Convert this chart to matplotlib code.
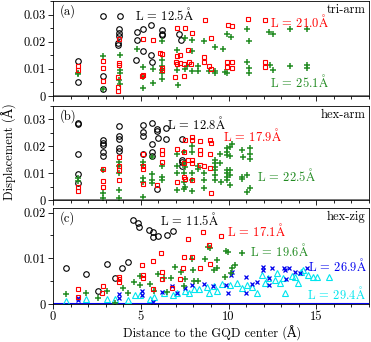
import matplotlib
matplotlib.use("Agg")
import matplotlib.pyplot as plt
from matplotlib.ticker import MultipleLocator, FuncFormatter

plt.rcParams['font.family'] = ['cmr10', 'DejaVu Serif']
plt.rcParams['mathtext.fontset'] = 'cm'
plt.rcParams['axes.formatter.use_mathtext'] = False
plt.rcParams['axes.unicode_minus'] = False

AA = r'$\mathrm{\AA}$'

# ---------------- panel (a) tri-arm ----------------
a_blk_x = [1.41, 1.41, 2.83, 2.83, 2.87, 3.82, 3.78, 3.78, 3.76, 3.72, 3.70, 4.77, 4.77, 4.74,
           5.15, 5.15, 5.57, 5.57, 5.62, 6.23, 6.19, 6.19, 7.20, 7.27]
a_blk_y = [0.0128, 0.0052, 0.0294, 0.0074, 0.0025, 0.0294, 0.0247, 0.0232, 0.0220, 0.0195, 0.0189,
           0.0236, 0.0205, 0.0133, 0.0247, 0.0164, 0.0263, 0.0152, 0.0127, 0.0242, 0.0229, 0.0225,
           0.0230, 0.0205]
a_red_x = [1.41, 1.45, 2.83, 2.87, 2.83, 3.76, 3.76, 3.76, 3.72, 3.72, 3.72, 5.15, 5.72, 5.15, 5.05,
           6.10, 6.19, 6.19, 6.19, 7.08, 7.00, 7.05, 6.95, 7.05, 7.71, 7.52, 7.90, 8.66, 8.98, 9.99,
           10.22, 11.13, 12.08, 7.24, 7.24, 7.46, 7.77, 7.84, 8.60, 8.60, 8.90, 8.98, 9.89, 10.20,
           9.89, 10.20, 12.08, 12.08, 7.46]
a_red_y = [0.0112, 0.0096, 0.0130, 0.0103, 0.0056, 0.0211, 0.0122, 0.0113, 0.0069, 0.0032, 0.0019,
           0.0211, 0.0205, 0.0078, 0.0072, 0.0160, 0.0154, 0.0103, 0.0095, 0.0149, 0.0127, 0.0119,
           0.0069, 0.0251, 0.0169, 0.0251, 0.0233, 0.0279, 0.0214, 0.0263, 0.0257, 0.0285, 0.0279,
           0.0152, 0.0122, 0.0117, 0.0127, 0.0119, 0.0143, 0.0127, 0.0112, 0.0100, 0.0125, 0.0125,
           0.0107, 0.0104, 0.0125, 0.0108, 0.0072]
a_grn_x = [1.41, 1.45, 2.83, 2.87, 3.80, 3.80, 3.80, 3.80, 3.76, 4.77, 5.15, 5.15, 5.15, 5.72, 5.72,
           6.19, 6.19, 6.19, 6.19, 6.19, 6.19, 7.08, 7.08, 7.14, 7.52, 7.65, 7.90, 7.90, 7.52, 7.90,
           8.28, 8.28, 8.60, 8.90, 9.23, 9.23, 9.23, 9.67, 9.89, 10.14, 9.80, 9.89, 11.03, 11.19,
           11.03, 11.19, 11.19, 12.33, 12.56, 12.37, 12.56, 13.50, 13.50, 14.45, 14.45, 14.45]
a_grn_y = [0.0086, 0.0080, 0.0148, 0.0025, 0.0152, 0.0096, 0.0086, 0.0043, 0.0060, 0.0173, 0.0108,
           0.0069, 0.0028, 0.0099, 0.0047, 0.0201, 0.0133, 0.0111, 0.0096, 0.0086, 0.0062, 0.0170,
           0.0094, 0.0041, 0.0215, 0.0111, 0.0205, 0.0164, 0.0099, 0.0093, 0.0111, 0.0093, 0.0201,
           0.0093, 0.0179, 0.0093, 0.0085, 0.0173, 0.0230, 0.0217, 0.0089, 0.0085, 0.0247, 0.0201,
           0.0125, 0.0103, 0.0086, 0.0234, 0.0229, 0.0115, 0.0096, 0.0247, 0.0111, 0.0247, 0.0114,
           0.0105]

# ---------------- panel (b) hex-arm ----------------
b_blk_x = [1.44, 1.44, 1.44, 1.44, 1.44, 2.87, 2.87, 2.87, 2.87, 2.87, 3.78, 3.78, 3.78, 3.78, 3.78,
           5.11, 5.11, 5.11, 5.11, 5.62, 5.62, 5.66, 5.66, 5.90, 5.90, 5.90, 5.98, 6.42, 6.42, 7.33,
           7.33, 7.33, 7.33]
b_blk_y = [0.0288, 0.0282, 0.0173, 0.0095, 0.0062, 0.0225, 0.0214, 0.0204, 0.0177, 0.0163, 0.0275,
           0.0240, 0.0228, 0.0193, 0.0181, 0.0278, 0.0253, 0.0240, 0.0170, 0.0288, 0.0207, 0.0179,
           0.0164, 0.0041, 0.0265, 0.0256, 0.0230, 0.0269, 0.0228, 0.0228, 0.0150, 0.0142, 0.0127]
b_red_x = [1.44, 1.44, 2.87, 2.87, 2.87, 3.78, 3.78, 3.78, 3.78, 5.11, 5.11, 5.11, 5.11, 6.19, 6.19,
           6.19, 5.90, 7.08, 7.08, 7.52, 7.71, 7.52, 7.46, 7.90, 7.90, 8.38, 8.95, 8.98, 7.90, 7.90,
           7.46, 8.38, 8.38, 8.38, 8.60, 8.95, 8.95, 8.98, 7.46, 7.90]
b_red_y = [0.0049, 0.0035, 0.0117, 0.0072, 0.0047, 0.0159, 0.0128, 0.0111, 0.0074, 0.0173, 0.0128,
           0.0117, 0.0059, 0.0185, 0.0173, 0.0142, 0.0056, 0.0190, 0.0068, 0.0222, 0.0150, 0.0078,
           0.0180, 0.0235, 0.0222, 0.0219, 0.0222, 0.0212, 0.0149, 0.0136, 0.0136, 0.0185, 0.0173,
           0.0131, 0.0125, 0.0170, 0.0121, 0.0027, 0.0086, 0.0074]
b_grn_x = [1.44, 1.44, 2.87, 2.87, 2.87, 3.78, 3.78, 3.78, 3.78, 3.78, 5.11, 5.11, 5.11, 5.11, 5.11,
           5.62, 5.62, 5.66, 5.66, 6.19, 6.19, 6.19, 7.08, 7.08, 7.08, 7.08, 7.52, 7.52, 7.46, 7.90,
           7.90, 7.46, 7.46, 7.90, 7.46, 7.90, 7.46, 7.90, 8.28, 8.28, 8.60, 8.60, 8.60, 9.23, 9.23,
           9.23, 9.23, 9.23, 9.23, 9.52, 9.52, 9.55, 9.90, 9.90, 9.90, 9.90, 9.90, 9.90, 9.90, 10.08,
           10.08, 10.08, 10.08, 10.08, 10.18, 10.75, 10.75, 10.75, 11.03, 11.03, 11.22, 11.22, 11.22,
           11.22, 10.85]
b_grn_y = [0.0083, 0.0072, 0.0110, 0.0025, 0.0007, 0.0142, 0.0125, 0.0099, 0.0039, 0.0007, 0.0142,
           0.0130, 0.0083, 0.0068, 0.0012, 0.0161, 0.0096, 0.0074, 0.0062, 0.0128, 0.0086, 0.0074,
           0.0173, 0.0128, 0.0099, 0.0037, 0.0123, 0.0050, 0.0177, 0.0201, 0.0180, 0.0136, 0.0099,
           0.0099, 0.0068, 0.0074, 0.0040, 0.0035, 0.0128, 0.0117, 0.0099, 0.0074, 0.0043, 0.0149,
           0.0136, 0.0123, 0.0111, 0.0093, 0.0074, 0.0173, 0.0136, 0.0068, 0.0193, 0.0180, 0.0167,
           0.0111, 0.0099, 0.0086, 0.0074, 0.0199, 0.0162, 0.0111, 0.0093, 0.0057, 0.0207, 0.0185,
           0.0086, 0.0078, 0.0093, 0.0028, 0.0193, 0.0173, 0.0151, 0.0043, 0.0160]

# ---------------- panel (c) hex-zig ----------------
c_blk_x = [0.74, 1.88, 2.55, 3.10, 3.53, 3.91, 4.29, 4.58, 4.86, 4.90, 5.49, 5.72, 5.72, 6.00, 6.48, 6.82]
c_blk_y = [0.0078, 0.0065, 0.0028, 0.0088, 0.0056, 0.0078, 0.0091, 0.0183, 0.0178, 0.0168, 0.0161,
           0.0157, 0.0146, 0.0148, 0.0152, 0.0159]
c_red_x = [1.41, 1.41, 2.83, 2.77, 3.76, 3.76, 3.76, 5.05, 5.10, 5.10, 5.68, 6.15, 6.19, 6.19, 6.76,
           7.46, 7.42, 7.24, 7.71, 7.90, 8.57, 8.91, 9.55, 8.38, 8.95, 5.68]
c_red_y = [0.0033, 0.0016, 0.0040, 0.0024, 0.0060, 0.0054, 0.0049, 0.0085, 0.0063, 0.0056, 0.0093,
           0.0112, 0.0070, 0.0055, 0.0034, 0.0103, 0.0078, 0.0055, 0.0143, 0.0103, 0.0158, 0.0128,
           0.0149, 0.0078, 0.0087, 0.0033]
c_grn_x = [0.74, 1.88, 2.55, 3.10, 3.53, 3.97, 4.29, 4.62, 4.96, 4.96, 5.53, 5.76, 6.00, 6.30, 6.48,
           6.70, 6.95, 7.30, 7.46, 7.52, 7.90, 8.00, 8.05, 8.28, 8.66, 8.85, 8.95, 9.33, 9.86, 9.99,
           10.37, 10.75, 10.18, 10.14, 9.33, 9.80, 9.15]
c_grn_y = [0.0021, 0.0024, 0.0014, 0.0029, 0.0003, 0.0035, 0.0024, 0.0049, 0.0062, 0.0041, 0.0044,
           0.0029, 0.0066, 0.0057, 0.0027, 0.0057, 0.0081, 0.0069, 0.0039, 0.0055, 0.0098, 0.0075,
           0.0050, 0.0050, 0.0098, 0.0124, 0.0122, 0.0096, 0.0117, 0.0114, 0.0085, 0.0112, 0.0078,
           0.0068, 0.0078, 0.0060, 0.0074]
c_blu_x = [1.41, 1.41, 3.76, 3.76, 5.05, 5.05, 5.68, 6.19, 6.76, 7.05, 7.50, 7.90, 8.60, 9.12, 9.86,
           9.95, 10.18, 10.14, 11.00, 11.00, 11.32, 11.60, 11.99, 11.99, 12.46, 12.33, 12.33, 13.16,
           13.20, 13.46, 13.25, 13.79, 14.07, 14.45]
c_blu_y = [0.0014, 0.0008, 0.0022, 0.0014, 0.0029, 0.0020, 0.0005, 0.0027, 0.0040, 0.0024, 0.0036,
           0.0041, 0.0043, 0.0039, 0.0042, 0.0025, 0.0070, 0.0064, 0.0059, 0.0025, 0.0043, 0.0048,
           0.0081, 0.0075, 0.0078, 0.0057, 0.0041, 0.0079, 0.0074, 0.0078, 0.0054, 0.0071, 0.0067,
           0.0078]
c_cyn_x = [0.74, 1.88, 3.10, 3.53, 4.29, 4.67, 4.96, 5.53, 5.76, 6.30, 6.86, 7.05, 7.52, 7.75, 8.05,
           8.33, 8.76, 8.90, 9.18, 9.37, 9.60, 10.08, 10.46, 10.75, 11.03, 11.32, 11.60, 11.90, 12.08,
           12.27, 12.65, 12.74, 12.93, 13.08, 13.22, 13.60, 13.79, 13.98, 14.10, 14.26, 14.55, 14.79,
           15.05, 15.70]
c_cyn_y = [0.0007, 0.0010, 0.0010, 0.0012, 0.0009, 0.0019, 0.0019, 0.0012, 0.0016, 0.0024, 0.0019,
           0.0024, 0.0029, 0.0024, 0.0032, 0.0032, 0.0038, 0.0024, 0.0040, 0.0029, 0.0043, 0.0041,
           0.0045, 0.0035, 0.0041, 0.0038, 0.0024, 0.0063, 0.0046, 0.0056, 0.0052, 0.0067, 0.0045,
           0.0056, 0.0024, 0.0061, 0.0060, 0.0045, 0.0069, 0.0075, 0.0063, 0.0060, 0.0059, 0.0059]

panel_letters = ['(a)', '(b)', '(c)']
panel_names = ['tri-arm', 'hex-arm', 'hex-zig']
y_tops = [0.035, 0.035, 0.021]
x_ticks = [0, 5, 10, 15]

RED = '#ff0000'
GRN = '#228b22'
BLU = '#0000ee'
CYN = '#00e5ee'
FS = 9

W, H = 371, 342
fig = plt.figure(figsize=(W / 100, H / 100), dpi=100)
left = 53 / W
width = (369 - 53) / W
boxes = [(1, 96), (106, 200), (208, 304)]
axes = []
for top, bot in boxes:
    axes.append(fig.add_axes([left, 1 - bot / H, width, (bot - top) / H]))

circ = dict(marker='o', ms=4.0, mfc='none', mec='black', mew=0.8, ls='none')
sq = dict(marker='s', ms=3.4, mfc='none', mec=RED, mew=0.8, ls='none')
plus = dict(marker='+', ms=4.3, mec=GRN, mew=1.1, ls='none')
xm = dict(marker='x', ms=3.2, mec=BLU, mew=0.9, ls='none')
tri = dict(marker='^', ms=3.8, mfc='none', mec=CYN, mew=0.8, ls='none')

ax = axes[0]
ax.plot(a_blk_x, a_blk_y, **circ)
ax.plot(a_grn_x, a_grn_y, **plus)
ax.plot(a_red_x, a_red_y, **sq)
ax.text(4.67, 0.0300, 'L = 12.5' + AA, color='black', fontsize=FS, va='center')
ax.text(12.36, 0.0276, 'L = 21.0' + AA, color=RED, fontsize=FS, va='center')
ax.text(12.36, 0.0055, 'L = 25.1' + AA, color=GRN, fontsize=FS, va='center')

ax = axes[1]
ax.plot(b_blk_x, b_blk_y, **circ)
ax.plot(b_grn_x, b_grn_y, **plus)
ax.plot(b_red_x, b_red_y, **sq)
ax.text(6.5, 0.0286, 'L = 12.8' + AA, color='black', fontsize=FS, va='center')
ax.text(9.69, 0.0240, 'L = 17.9' + AA, color=RED, fontsize=FS, va='center')
ax.text(11.62, 0.0093, 'L = 22.5' + AA, color=GRN, fontsize=FS, va='center')

ax = axes[2]
ax.axhline(0, color=BLU, lw=1.5, zorder=1)
ax.plot(c_blk_x, c_blk_y, **circ)
ax.plot(c_cyn_x, c_cyn_y, **tri)
ax.plot(c_blu_x, c_blu_y, **xm)
ax.plot(c_grn_x, c_grn_y, **plus)
ax.plot(c_red_x, c_red_y, **sq)
ax.text(6.07, 0.0184, 'L = 11.5' + AA, color='black', fontsize=FS, va='center')
ax.text(9.9, 0.0160, 'L = 17.1' + AA, color=RED, fontsize=FS, va='center')
ax.text(11.22, 0.0116, 'L = 19.6' + AA, color=GRN, fontsize=FS, va='center')
ax.text(14.5, 0.0084, 'L = 26.9' + AA, color=BLU, fontsize=FS, va='center')
ax.text(14.45, 0.0023, 'L = 29.4' + AA, color=CYN, fontsize=FS, va='center')

fmt = FuncFormatter(lambda v, p: '0' if abs(v) < 1e-12 else '%.2f' % v)
xfmt = FuncFormatter(lambda v, p: '%d' % round(v))
for i, ax in enumerate(axes):
    ax.set_xlim(0, 18)
    ax.set_ylim(0, y_tops[i])
    if i < 2:
        ax.axhline(0, color='#777777', lw=1.4, zorder=1)
    ax.set_xticks(x_ticks)
    ax.xaxis.set_major_formatter(xfmt)
    ax.xaxis.set_minor_locator(MultipleLocator(1))
    ax.yaxis.set_major_locator(MultipleLocator(0.01))
    ax.yaxis.set_minor_locator(MultipleLocator(0.005))
    ax.yaxis.set_major_formatter(fmt)
    ax.tick_params(which='both', direction='out', labelsize=FS, width=0.6, pad=2)
    ax.tick_params(axis='x', pad=1.5)
    ax.tick_params(which='major', length=3.5)
    ax.tick_params(which='minor', length=2)
    for s in ax.spines.values():
        s.set_linewidth(0.6)
    if i < 2:
        ax.tick_params(axis='x', labelbottom=False)
    ax.text(0.02, 0.97, panel_letters[i], transform=ax.transAxes, va='top', ha='left', fontsize=FS)
    ax.text(0.99, 0.97, panel_names[i], transform=ax.transAxes, va='top', ha='right', fontsize=FS)

fig.text(0.025, 0.558, 'Displacement (Å)', rotation=90, va='center', ha='center', fontsize=FS)
fig.text(0.571, 0.024, 'Distance to the GQD center (Å)', va='center', ha='center', fontsize=FS)

fig.savefig('out.png', dpi=100)
